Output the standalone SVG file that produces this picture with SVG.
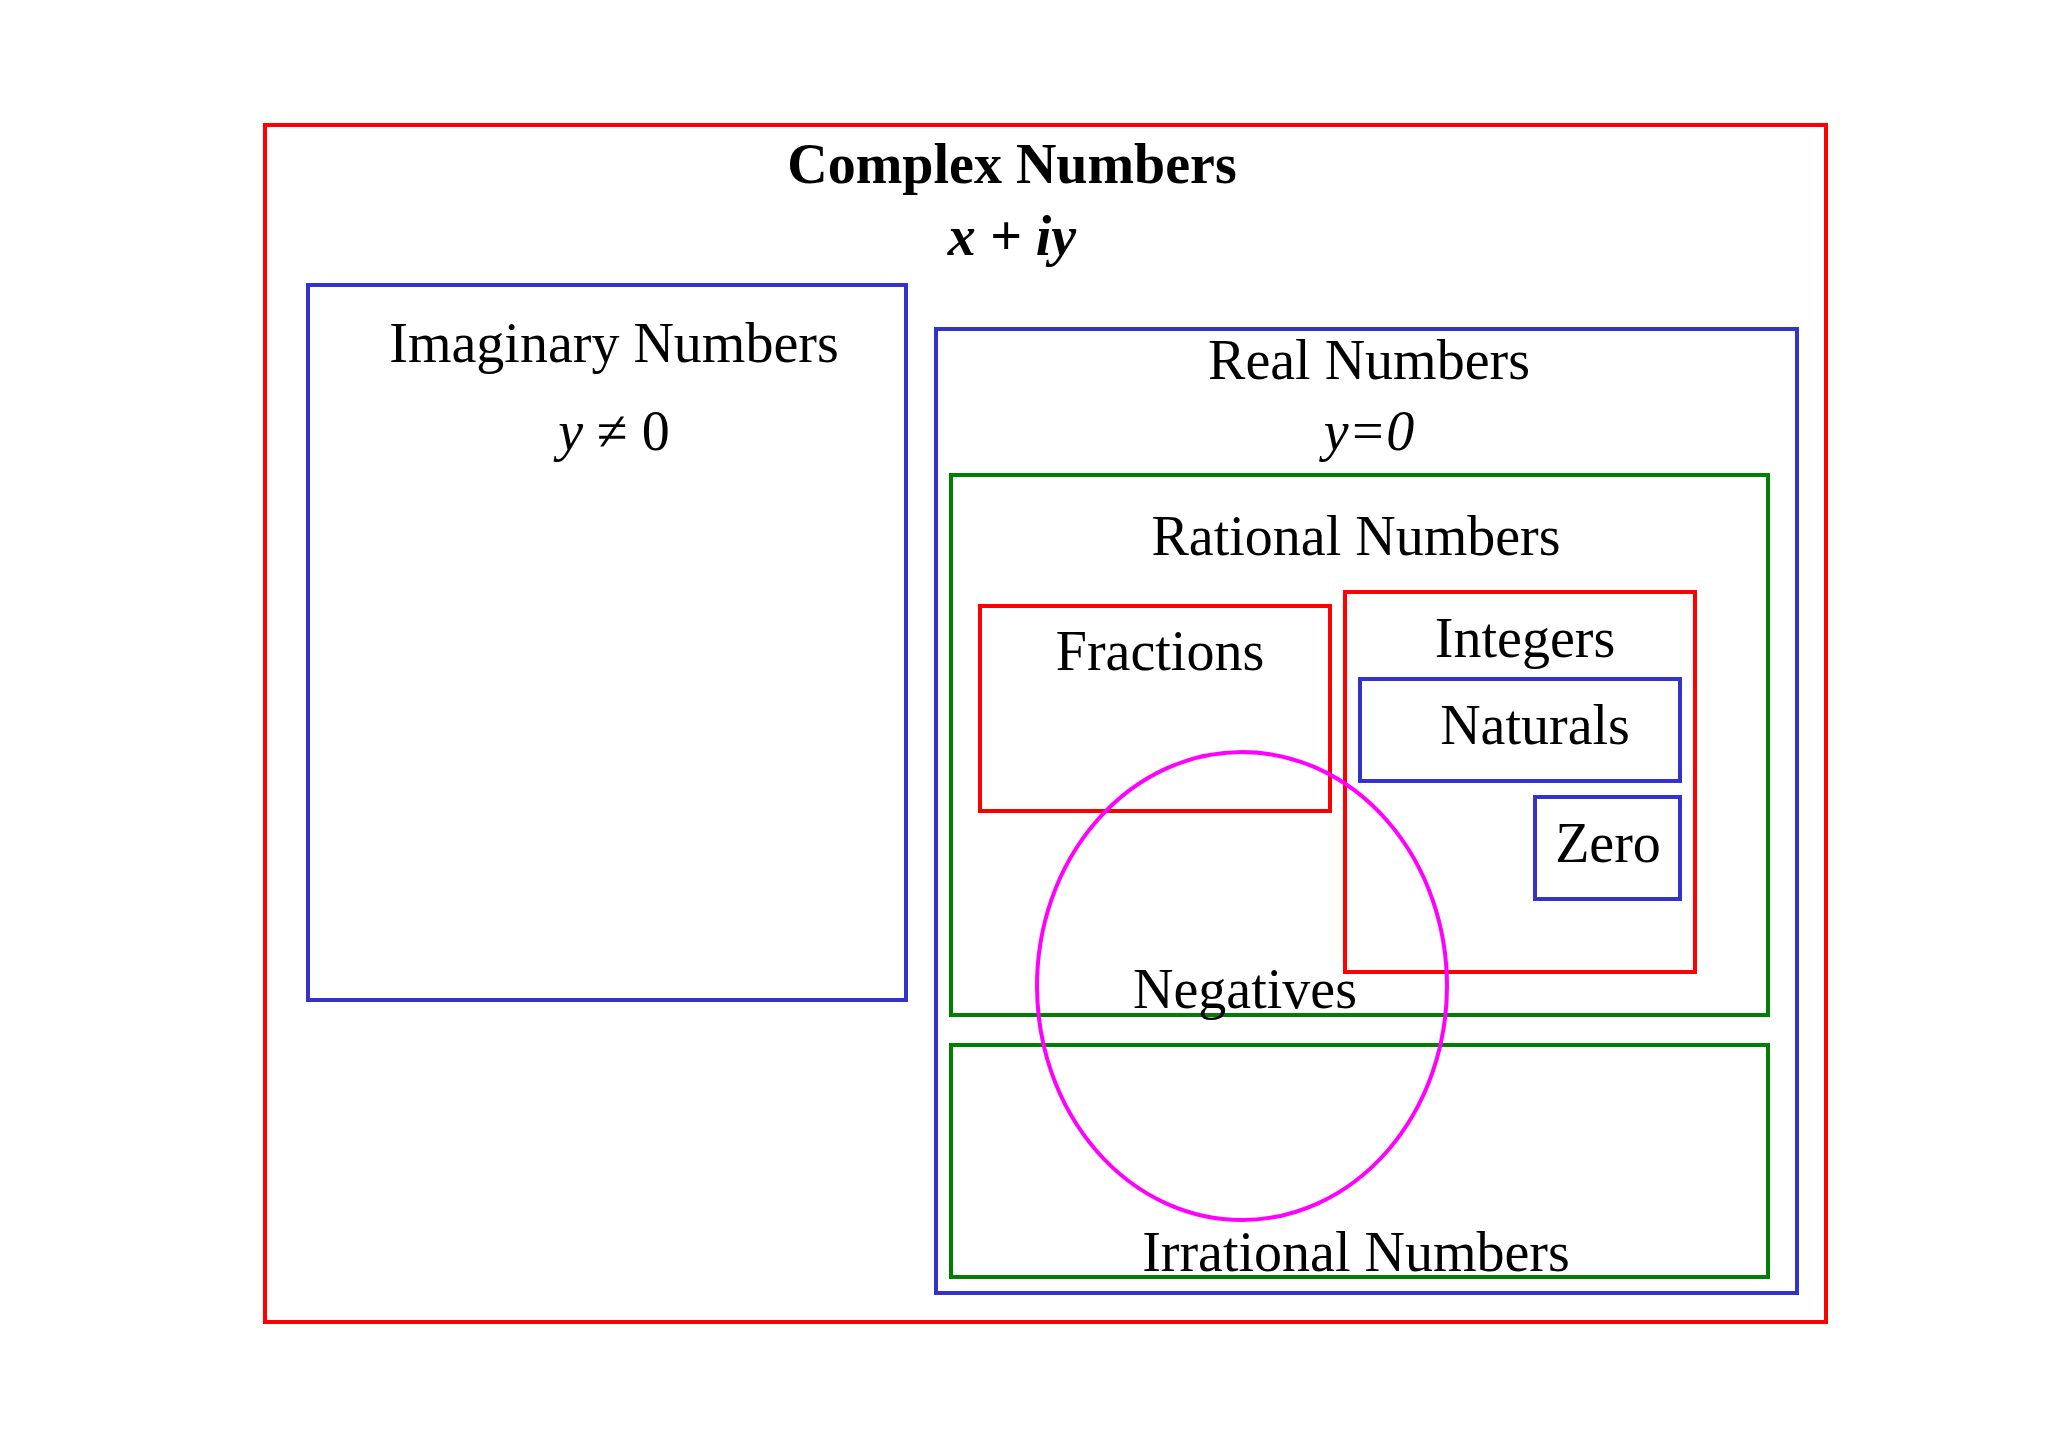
<svg xmlns="http://www.w3.org/2000/svg" width="2048" height="1448" viewBox="0 0 2048 1448">
<style>
rect{fill:none;stroke-width:4}
.r{stroke:#f00}.b{stroke:#3333cc}.g{stroke:#008000}
text{font-family:"Liberation Serif",serif;font-size:56px;text-anchor:middle;fill:#000}
</style>
<rect x="0" y="0" width="2048" height="1448" fill="#fff" stroke="none"/>
<g id="complex"><rect class="r" x="265" y="125" width="1561" height="1197" fill="#fdfefe"/>
<text x="1012" y="183" font-weight="bold">Complex Numbers</text>
<text x="1012" y="255" font-weight="bold" font-style="italic">x + iy</text></g>
<g id="imaginary"><rect class="b" x="308" y="285" width="598" height="715"/>
<text x="614" y="362">Imaginary Numbers</text>
<text x="614" y="450"><tspan font-style="italic">y</tspan> ≠ 0</text></g>
<g id="real"><rect class="b" x="936" y="329" width="861" height="964"/>
<text x="1369" y="379">Real Numbers</text>
<text x="1369" y="450" font-style="italic">y=0</text></g>
<g id="rational"><rect class="g" x="951" y="475" width="817" height="540"/>
<text x="1356" y="555">Rational Numbers</text></g>
<g id="fractions"><rect class="r" x="980" y="606" width="350" height="205"/>
<text x="1160" y="670">Fractions</text></g>
<g id="integers"><rect class="r" x="1345" y="592" width="350" height="380"/>
<text x="1525" y="657">Integers</text></g>
<g id="naturals"><rect class="b" x="1360" y="679" width="320" height="102"/>
<text x="1535" y="744">Naturals</text></g>
<g id="zero"><rect class="b" x="1535" y="797" width="145" height="102"/>
<text x="1608" y="862">Zero</text></g>
<g id="irrational"><rect class="g" x="951" y="1045" width="817" height="232"/>
<text x="1356" y="1271">Irrational Numbers</text></g>
<g id="negatives"><ellipse cx="1242" cy="986" rx="205" ry="234" fill="none" stroke="#f0f" stroke-width="4"/>
<text x="1245" y="1008">Negatives</text></g>
<g id="connectors"/>
</svg>
